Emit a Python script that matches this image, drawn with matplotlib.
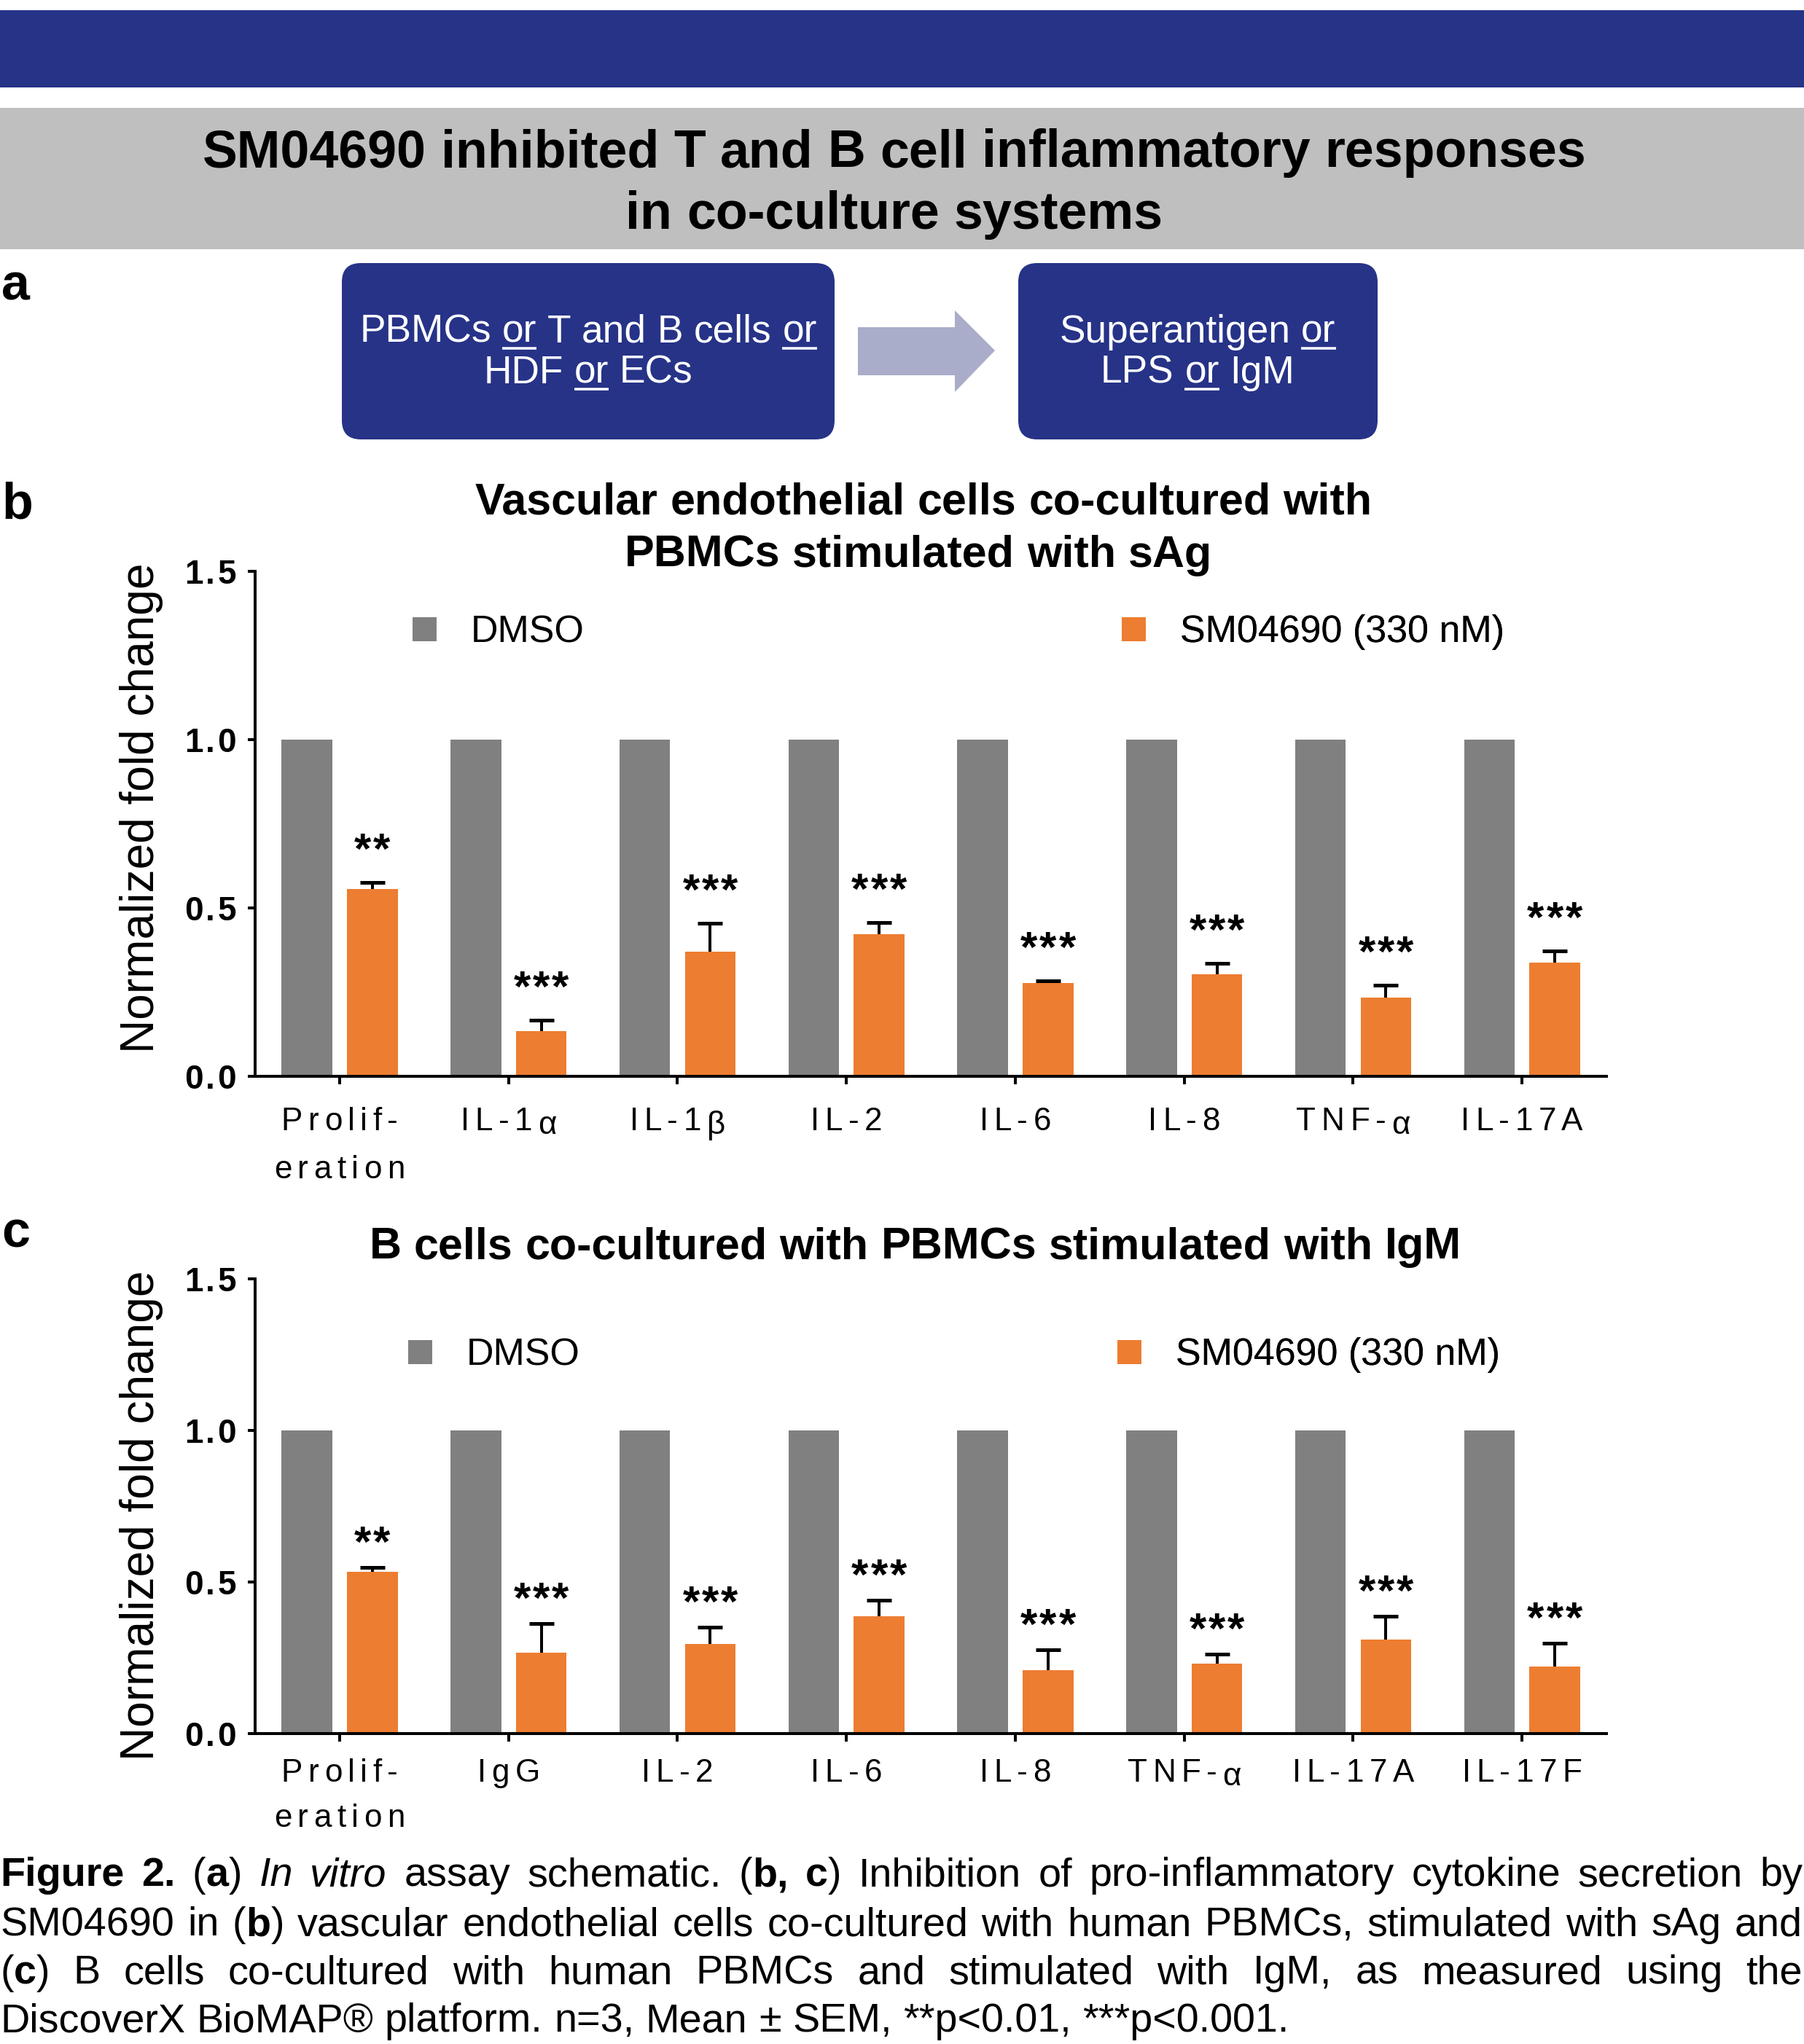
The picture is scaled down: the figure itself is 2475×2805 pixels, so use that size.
import re

import matplotlib
matplotlib.use("Agg")
import matplotlib.pyplot as plt
from matplotlib.patches import FancyBboxPatch, Polygon, Patch, Rectangle
import numpy as np

plt.rcParams["font.family"] = ["Liberation Sans", "DejaVu Sans"]

# ---- data ----------------------------------------------------------------
b_labels = ["Prolif-\neration", "IL-1α", "IL-1β", "IL-2", "IL-6", "IL-8", "TNF-α", "IL-17A"]
b_dmso = [1.0, 1.0, 1.0, 1.0, 1.0, 1.0, 1.0, 1.0]
b_sm = [0.557, 0.134, 0.370, 0.422, 0.276, 0.302, 0.234, 0.337]
b_sem = [0.018, 0.032, 0.085, 0.034, 0.008, 0.034, 0.037, 0.035]
b_sig = ["**", "***", "***", "***", "***", "***", "***", "***"]

c_labels = ["Prolif-\neration", "IgG", "IL-2", "IL-6", "IL-8", "TNF-α", "IL-17A", "IL-17F"]
c_dmso = [1.0, 1.0, 1.0, 1.0, 1.0, 1.0, 1.0, 1.0]
c_sm = [0.534, 0.266, 0.295, 0.387, 0.209, 0.231, 0.310, 0.221]
c_sem = [0.014, 0.098, 0.056, 0.054, 0.068, 0.032, 0.077, 0.077]
c_sig = ["**", "***", "***", "***", "***", "***", "***", "***"]

yticks = [0.0, 0.5, 1.0, 1.5]
ytick_labels = ["0.0", "0.5", "1.0", "1.5"]
legend_names = ["DMSO", "SM04690 (330 nM)"]

banner_title = ["SM04690 inhibited T and B cell inflammatory responses", "in co-culture systems"]
box1_lines = ["PBMCs [u]or[/u] T and B cells [u]or[/u]", "HDF [u]or[/u] ECs"]
box2_lines = ["Superantigen [u]or[/u]", "LPS [u]or[/u] IgM"]
b_title = ["Vascular endothelial cells co-cultured with", "PBMCs stimulated with sAg"]
c_title = ["B cells co-cultured with PBMCs stimulated with IgM"]
caption = [
    "[b]Figure 2.[/b] ([b]a[/b]) [i]In vitro[/i] assay schematic. ([b]b, c[/b]) Inhibition of pro-inflammatory cytokine secretion by",
    "SM04690 in ([b]b[/b]) vascular endothelial cells co-cultured with human PBMCs, stimulated with sAg and",
    "([b]c[/b]) B cells co-cultured with human PBMCs and stimulated with IgM, as measured using the",
    "DiscoverX BioMAP® platform. n=3, Mean ± SEM, **p<0.01, ***p<0.001.",
]

GRAY = "#808080"
ORANGE = "#ED7D31"
NAVY = "#263387"
BAND = "#BFBFBF"
ARROW = "#A9ADC9"

W, H = 2475, 2805
DPI = 72
fig = plt.figure(figsize=(W / DPI, H / DPI), dpi=DPI)
fig.patch.set_facecolor("white")
renderer = fig.canvas.get_renderer()

# overlay in pixel units, y pointing down
bg = fig.add_axes([0, 0, 1, 1])
bg.set_xlim(0, W)
bg.set_ylim(H, 0)
bg.axis("off")
bg.set_zorder(-1)

fg = fig.add_axes([0, 0, 1, 1])
fg.set_xlim(0, W)
fg.set_ylim(H, 0)
fg.axis("off")
fg.set_zorder(5)


def parse(s):
    words, cur = [], []
    style = {"b": False, "i": False, "u": False}
    for tok in re.split(r"(\[/?[biu]\])", s):
        m = re.fullmatch(r"\[(/?)([biu])\]", tok)
        if m:
            style[m.group(2)] = not m.group(1)
            continue
        for k, p in enumerate(tok.split(" ")):
            if k > 0 and cur:
                words.append(cur)
                cur = []
            if p:
                cur.append((p, style["b"], style["i"], style["u"]))
    if cur:
        words.append(cur)
    return words


def width_of(s, size, bold=False, italic=False):
    t = bg.text(0, 0, s, fontsize=size, fontweight="bold" if bold else "normal",
                fontstyle="italic" if italic else "normal")
    w = t.get_window_extent(renderer).width
    t.remove()
    return w


def fit(s, target, bold=False):
    return 60 * target / width_of(s, 60, bold)


def draw_line(s, x, y, size, color="black", ha="left", justify=None, bold=False):
    words = parse(s)
    space = width_of("a a", size, bold) - width_of("aa", size, bold)
    arts = []
    for word in words:
        row = []
        for txt, b, i, u in word:
            t = bg.text(0, y, txt, fontsize=size, color=color, va="baseline",
                        fontweight="bold" if (b or bold) else "normal",
                        fontstyle="italic" if i else "normal")
            row.append((t, t.get_window_extent(renderer).width, u))
        arts.append(row)
    ww = [sum(r[1] for r in row) for row in arts]
    gap = space if justify is None else (justify - sum(ww)) / (len(ww) - 1)
    total = sum(ww) + gap * (len(ww) - 1)
    cx = x - total / 2 if ha == "center" else x
    for row, w in zip(arts, ww):
        px = cx
        for t, tw, u in row:
            t.set_x(px)
            if u:
                bg.plot([px, px + tw], [y + 8, y + 8], color=color, lw=3.5,
                        solid_capstyle="butt")
            px += tw
        cx += w + gap


def spaced(s, x, y, size, track, ha="center", bold=False):
    """Letter-spaced text, baseline at y (pixel overlay coords)."""
    ws = [width_of(c, size, bold) for c in s]
    gaps = [width_of(a + b, size, bold) - wa - wb
            for a, b, wa, wb in zip(s[:-1], s[1:], ws[:-1], ws[1:])] + [0]
    total = sum(ws) + sum(gaps[:-1]) + track * (len(s) - 1)
    px = {"center": x - total / 2, "right": x - total}.get(ha, x)
    for c, w, g in zip(s, ws, gaps):
        dy = 5 if c in "αβ" else 0
        fg.text(px, y + dy, c, fontsize=size, va="baseline", ha="left",
                fontweight="bold" if bold else "normal")
        px += w + g + track


# ---- header ---------------------------------------------------------------
bg.add_patch(Rectangle((0, 14), W, 106, color=NAVY, lw=0))
bg.add_patch(Rectangle((0, 148), W, 194, color=BAND, lw=0))
fs_banner = fit(banner_title[0], 1900, bold=True)
draw_line(banner_title[0], 1227, 229, fs_banner, ha="center", bold=True)
draw_line(banner_title[1], 1227, 314, fs_banner, ha="center", bold=True)

# ---- panel a ----------------------------------------------------------------
for x0, x1 in [(469, 1145), (1397, 1890)]:
    bg.add_patch(FancyBboxPatch((x0, 361), x1 - x0, 242,
                                boxstyle="round,pad=0,rounding_size=26",
                                fc=NAVY, ec="none"))
bg.add_patch(Polygon([(1177, 449), (1310, 449), (1310, 426), (1365, 481),
                      (1310, 538), (1310, 515), (1177, 515)],
                     closed=True, fc=ARROW, ec="none"))
fs_box = fit("PBMCs or T and B cells or", 624)
draw_line(box1_lines[0], 807, 470, fs_box, color="white", ha="center")
draw_line(box1_lines[1], 807, 526, fs_box, color="white", ha="center")
draw_line(box2_lines[0], 1643, 470, fs_box, color="white", ha="center")
draw_line(box2_lines[1], 1643, 526, fs_box, color="white", ha="center")

for lab, y in [("a", 411), ("b", 712), ("c", 1712)]:
    bg.text(2, y, lab, fontsize=70, fontweight="bold", va="baseline")

# ---- panel titles -------------------------------------------------------
fs_pt = fit(b_title[0], 1232, bold=True)
draw_line(b_title[0], 1267, 705, fs_pt, ha="center", bold=True)
draw_line(b_title[1], 1260, 778, fs_pt, ha="center", bold=True)
draw_line(c_title[0], 1256, 1727, fit(c_title[0], 1500, bold=True), ha="center", bold=True)


# ---- bar panels -----------------------------------------------------------
def to_px(ax, x, y):
    dx, dy = ax.transData.transform((x, y))
    return dx, H - dy


def bar_panel(top, bottom, labels, dmso, sm, sem, sig, star_off, lab_base, lab_step,
              ylab_y, leg_y, leg_x):
    ax = fig.add_axes([350 / W, 1 - bottom / H, (2204 - 350) / W, (bottom - top) / H])
    x = np.arange(len(labels))
    ax.bar(x - 0.193, dmso, width=0.30, color=GRAY, label=legend_names[0])
    ax.bar(x + 0.194, sm, width=0.30, color=ORANGE, label=legend_names[1])
    tops = np.array(sm) + np.array(sem)
    ax.errorbar(x + 0.194, sm, yerr=[np.zeros(len(sem)), sem], fmt="none",
                ecolor="black", elinewidth=4, capsize=0)
    ax.plot(x + 0.194, tops, ls="none", marker="_", ms=34, mew=5, color="black")
    ax.set_xlim(-0.5, 7.5)
    ax.set_ylim(0, 1.5)
    ax.set_yticks(yticks)
    ax.set_yticklabels([])
    ax.set_xticks(x)
    ax.set_xticklabels([])
    for sp in ["top", "right"]:
        ax.spines[sp].set_visible(False)
    for sp in ["left", "bottom"]:
        ax.spines[sp].set_linewidth(4)
    ax.tick_params(axis="y", length=10, width=4)
    ax.tick_params(axis="x", length=11, width=4)
    ax.patch.set_alpha(0)

    # significance stars
    for xi, t, s in zip(x, tops, sig):
        px, py = to_px(ax, xi + 0.194, t)
        spaced(s, px, py - star_off, 60, 3, bold=True)
    # tick labels (letter-spaced like the original)
    for xi, lab in zip(x, labels):
        px, py = to_px(ax, xi, 0)
        for k, line in enumerate(lab.split("\n")):
            spaced(line, px, py + lab_base + k * lab_step, 44, 7.5)
    for yv, lab in zip(yticks, ytick_labels):
        px, py = to_px(ax, -0.5, yv)
        spaced(lab, 324, py + 17, 46, 3.5, ha="right", bold=True)

    handles = [Patch(color=GRAY), Patch(color=ORANGE)]
    for h, name, lx in zip(handles, legend_names, leg_x):
        lg = ax.legend([h], [name], loc="center left", bbox_to_anchor=(lx / W, 1 - leg_y / H),
                       bbox_transform=fig.transFigure, frameon=False, fontsize=52,
                       borderpad=0, borderaxespad=0, handlelength=0.62, handleheight=0.58,
                       handletextpad=0.92)
        ax.add_artist(lg)
    fig.text(194 / W, 1 - ylab_y / H, "Normalized fold change", rotation=90,
             ha="center", va="center", fontsize=64)
    return ax


bar_panel(784, 1477, b_labels, b_dmso, b_sm, b_sem, b_sig, 26, 74, 66, 1109, 868, (566, 1539))
bar_panel(1755, 2379, c_labels, c_dmso, c_sm, c_sem, c_sig, 15, 66, 62, 2080, 1860, (560, 1533))

# ---- caption -----------------------------------------------------------------
fs_cap = fit("DiscoverX BioMAP® platform. n=3, Mean ± SEM, **p<0.01, ***p<0.001.", 1765)
for k, (line, yc) in enumerate(zip(caption, [2568, 2636, 2702, 2768])):
    draw_line(line, 0, yc + 0.36 * fs_cap, fs_cap, justify=W - 2 if k < 3 else None)

fig.savefig("out.png", dpi=DPI, facecolor="white")
